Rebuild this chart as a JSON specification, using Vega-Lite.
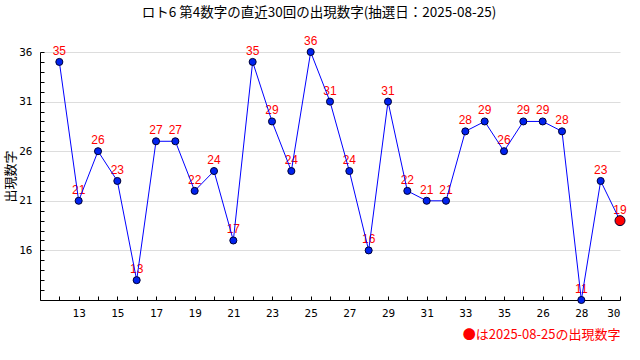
{
  "$schema": "https://vega.github.io/schema/vega-lite/v6.json",
  "autosize": {"type": "none"},
  "padding": {"left": 40, "top": 52, "right": 20, "bottom": 60},
  "width": 580,
  "height": 248,
  "background": "white",
  "title": {
    "text": "ロト6 第4数字の直近30回の出現数字(抽選日：2025-08-25)",
    "font": "Noto Sans CJK JP",
    "fontSize": 13.5,
    "fontWeight": "normal",
    "color": "black",
    "anchor": "middle",
    "frame": "group",
    "offset": 16,
    "dx": -11
  },
  "data": {
    "values": [
      {"n": 1, "v": 35, "last": "no"},
      {"n": 2, "v": 21, "last": "no"},
      {"n": 3, "v": 26, "last": "no"},
      {"n": 4, "v": 23, "last": "no"},
      {"n": 5, "v": 13, "last": "no"},
      {"n": 6, "v": 27, "last": "no"},
      {"n": 7, "v": 27, "last": "no"},
      {"n": 8, "v": 22, "last": "no"},
      {"n": 9, "v": 24, "last": "no"},
      {"n": 10, "v": 17, "last": "no"},
      {"n": 11, "v": 35, "last": "no"},
      {"n": 12, "v": 29, "last": "no"},
      {"n": 13, "v": 24, "last": "no"},
      {"n": 14, "v": 36, "last": "no"},
      {"n": 15, "v": 31, "last": "no"},
      {"n": 16, "v": 24, "last": "no"},
      {"n": 17, "v": 16, "last": "no"},
      {"n": 18, "v": 31, "last": "no"},
      {"n": 19, "v": 22, "last": "no"},
      {"n": 20, "v": 21, "last": "no"},
      {"n": 21, "v": 21, "last": "no"},
      {"n": 22, "v": 28, "last": "no"},
      {"n": 23, "v": 29, "last": "no"},
      {"n": 24, "v": 26, "last": "no"},
      {"n": 25, "v": 29, "last": "no"},
      {"n": 26, "v": 29, "last": "no"},
      {"n": 27, "v": 28, "last": "no"},
      {"n": 28, "v": 11, "last": "no"},
      {"n": 29, "v": 23, "last": "no"},
      {"n": 30, "v": 19, "last": "yes"}
    ]
  },
  "encoding": {
    "x": {
      "field": "n",
      "type": "quantitative",
      "scale": {"domain": [0, 30], "nice": false, "zero": false},
      "axis": {
        "values": [1,2,3,4,5,6,7,8,9,10,11,12,13,14,15,16,17,18,19,20,21,22,23,24,25,26,27,28,29,30],
        "labelExpr": "datum.value % 2 == 0 ? ['12','13','14','15','16','17','18','19','20','21','22','23','24','25','26','27','28','29','30','31','32','33','34','35','36','26','27','28','29','30'][datum.value - 1] : ''",
        "grid": false,
        "domainColor": "black",
        "tickColor": "black",
        "tickSize": -4,
        "labelPadding": 11,
        "labelFont": "DejaVu Sans Mono",
        "labelFontSize": 11,
        "labelColor": "black",
        "title": "●は2025-08-25の出現数字",
        "titleColor": "red",
        "titleFont": "Noto Sans CJK JP",
        "titleFontSize": 13,
        "titleFontWeight": "normal",
        "titleAnchor": "end",
        "titlePadding": 10
      }
    },
    "y": {
      "field": "v",
      "type": "quantitative",
      "scale": {"domain": [11, 36], "nice": false, "zero": false},
      "axis": {
        "values": [11,12,13,14,15,16,17,18,19,20,21,22,23,24,25,26,27,28,29,30,31,32,33,34,35,36],
        "labelExpr": "datum.value >= 16 && (datum.value - 16) % 5 == 0 ? datum.label : ''",
        "gridColor": "#dddddd",
        "gridOpacity": {"condition": {"test": "datum.value >= 16 && (datum.value - 16) % 5 == 0", "value": 1}, "value": 0},
        "domainColor": "black",
        "tickColor": "black",
        "tickSize": -4,
        "labelPadding": 12,
        "labelFont": "DejaVu Sans Mono",
        "labelFontSize": 11,
        "labelColor": "black",
        "title": "出現数字",
        "titleFont": "Noto Sans CJK JP",
        "titleFontSize": 13,
        "titleFontWeight": "normal",
        "titleColor": "black",
        "titlePadding": 1
      }
    }
  },
  "layer": [
    {
      "mark": {"type": "text", "dy": -11, "font": "Liberation Sans", "fontSize": 12, "color": "red"},
      "encoding": {"text": {"field": "v", "type": "quantitative"}}
    },
    {
      "mark": {"type": "line", "color": "blue", "strokeWidth": 1},
      "encoding": {}
    },
    {
      "mark": {"type": "point", "filled": true, "opacity": 1, "stroke": "#000033", "strokeWidth": 1},
      "encoding": {
        "color": {"field": "last", "type": "nominal", "scale": {"domain": ["no", "yes"], "range": ["#0022ee", "red"]}, "legend": null},
        "size": {"field": "last", "type": "nominal", "scale": {"domain": ["no", "yes"], "range": [50, 100]}, "legend": null}
      }
    }
  ],
  "config": {"view": {"stroke": null}}
}
